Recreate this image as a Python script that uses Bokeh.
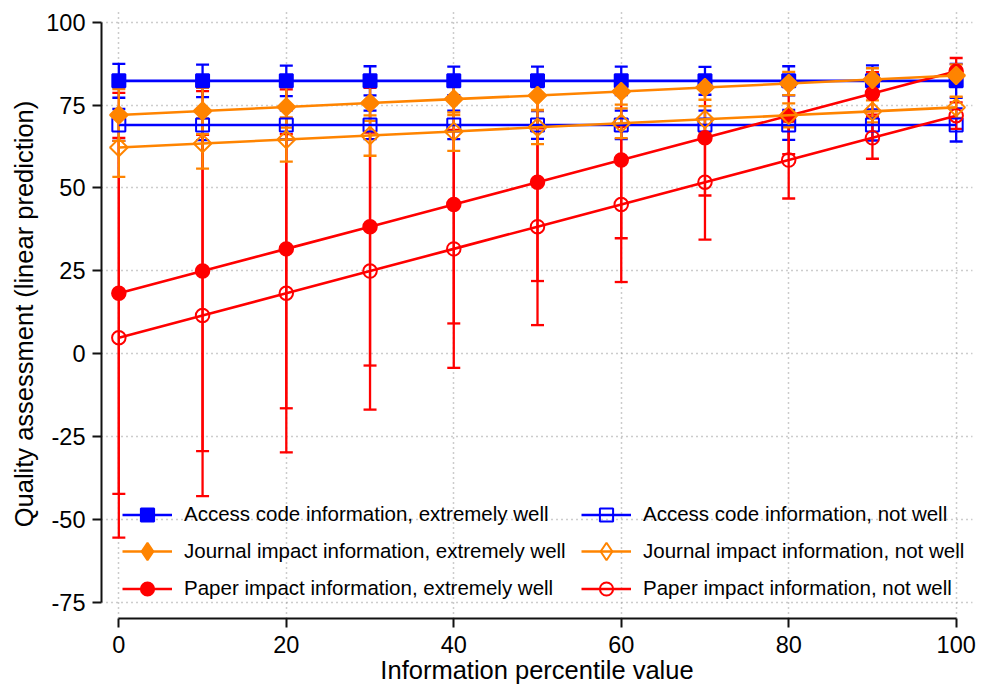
import math
from bokeh.plotting import figure
from bokeh.models import (ColumnDataSource, Range1d, Whisker, TeeHead, Legend,
                          LegendItem, FixedTicker)
from bokeh.embed import file_html
from bokeh.resources import INLINE

# ---------------- data ----------------
percentile = [0, 10, 20, 30, 40, 50, 60, 70, 80, 90, 100]
x_ticks = [0, 20, 40, 60, 80, 100]
y_ticks = [-75, -50, -25, 0, 25, 50, 75, 100]

access_ext = [82.3, 82.3, 82.3, 82.3, 82.3, 82.3, 82.3, 82.3, 82.3, 82.3, 82.3]
access_ext_lo = [77.2, 77.4, 77.7, 77.9, 78.0, 78.0, 78.0, 78.1, 77.9, 77.6, 77.2]
access_ext_hi = [87.4, 87.2, 86.9, 86.7, 86.6, 86.6, 86.6, 86.5, 86.7, 87.0, 87.4]

access_not = [69.0, 69.0, 69.0, 69.0, 69.0, 69.0, 69.0, 69.0, 69.0, 69.0, 69.0]
access_not_lo = [64.2, 64.4, 64.6, 64.7, 64.7, 64.8, 64.7, 64.7, 64.5, 64.3, 64.0]
access_not_hi = [73.8, 73.6, 73.4, 73.3, 73.3, 73.2, 73.3, 73.3, 73.5, 73.7, 74.0]

journal_ext = [72.0, 73.2, 74.4, 75.6, 76.8, 77.9, 79.1, 80.3, 81.5, 82.7, 83.9]
journal_ext_lo = [64.2, 66.2, 68.2, 70.2, 72.0, 73.5, 75.1, 76.6, 78.0, 79.3, 80.5]
journal_ext_hi = [79.8, 80.2, 80.6, 81.0, 81.6, 82.3, 83.1, 84.0, 85.0, 86.1, 87.3]

journal_not = [62.2, 63.4, 64.6, 65.8, 67.0, 68.3, 69.5, 70.7, 71.9, 73.1, 74.3]
journal_not_lo = [53.3, 55.8, 57.9, 59.7, 61.2, 63.2, 65.0, 66.7, 68.3, 69.8, 71.1]
journal_not_hi = [71.1, 71.0, 71.3, 71.9, 72.8, 73.4, 74.0, 74.7, 75.5, 76.4, 77.5]

paper_ext = [18.2, 24.9, 31.6, 38.3, 45.0, 51.7, 58.4, 65.1, 71.8, 78.5, 85.2]
paper_ext_lo = [-42.3, -29.4, -16.5, -3.6, 9.1, 21.9, 34.8, 47.7, 60.2, 72.1, 81.2]
paper_ext_hi = [78.7, 79.2, 79.7, 80.2, 80.9, 81.5, 82.0, 82.5, 83.4, 84.9, 89.2]

paper_not = [4.8, 11.5, 18.2, 24.9, 31.6, 38.3, 45.0, 51.7, 58.4, 65.1, 71.8]
paper_not_lo = [-55.5, -43.0, -29.8, -16.9, -4.3, 8.6, 21.6, 34.4, 46.8, 58.8, 67.8]
paper_not_hi = [65.1, 66.0, 66.2, 66.7, 67.5, 68.0, 68.4, 69.0, 70.0, 71.4, 75.8]

labels = [
    "Access code information, extremely well",
    "Access code information, not well",
    "Journal impact information, extremely well",
    "Journal impact information, not well",
    "Paper impact information, extremely well",
    "Paper impact information, not well",
]

BLUE = "#0000FF"
ORANGE = "#FF8400"
RED = "#FF0000"
FONT = "Liberation Sans"

# (label, y, lo, hi, color, shape, filled, legend column, legend row)
series = [
    (labels[0], access_ext, access_ext_lo, access_ext_hi, BLUE, "square", True, 0, 0),
    (labels[1], access_not, access_not_lo, access_not_hi, BLUE, "square", False, 1, 0),
    (labels[4], paper_ext, paper_ext_lo, paper_ext_hi, RED, "circle", True, 0, 2),
    (labels[5], paper_not, paper_not_lo, paper_not_hi, RED, "circle", False, 1, 2),
    (labels[2], journal_ext, journal_ext_lo, journal_ext_hi, ORANGE, "diamond", True, 0, 1),
    (labels[3], journal_not, journal_not_lo, journal_not_hi, ORANGE, "diamond", False, 1, 1),
]

p = figure(width=992, height=690, output_backend="svg", toolbar_location=None,
           x_range=Range1d(-2.07, 101.95), y_range=Range1d(-79.93, 103.83),
           min_border_left=101, min_border_right=20, min_border_top=9,
           min_border_bottom=72)
p.outline_line_color = None
p.background_fill_color = "white"

# grids
for g, t in ((p.xgrid, x_ticks), (p.ygrid, y_ticks)):
    g.ticker = FixedTicker(ticks=t)
    g.grid_line_color = "#9a9a9a"
    g.grid_line_dash = "1 4"
    g.grid_line_width = 1.5

# axes
p.xaxis.ticker = FixedTicker(ticks=x_ticks)
p.yaxis.ticker = FixedTicker(ticks=y_ticks)
p.yaxis.major_label_overrides = {t: str(t) for t in y_ticks}
p.xaxis.major_label_overrides = {t: str(t) for t in x_ticks}
p.xaxis.bounds = (0, 100)
p.yaxis.bounds = (-75, 100)
p.xaxis.axis_label = "Information percentile value"
p.yaxis.axis_label = "Quality assessment (linear prediction)"
for ax in (p.xaxis, p.yaxis):
    ax.axis_line_color = "#111111"
    ax.axis_line_width = 2
    ax.major_tick_line_color = "#111111"
    ax.major_tick_line_width = 2
    ax.major_tick_out = 9
    ax.major_tick_in = 0
    ax.minor_tick_line_color = None
    ax.major_label_text_font = FONT
    ax.major_label_text_font_size = "23.5px"
    ax.major_label_text_color = "black"
    ax.axis_label_text_font = FONT
    ax.axis_label_text_font_size = "25.5px"
    ax.axis_label_text_font_style = "normal"
    ax.axis_label_text_color = "black"
p.xaxis.major_label_standoff = 8
p.xaxis.axis_label_standoff = 0
p.yaxis.major_label_standoff = 7
p.yaxis.axis_label_standoff = 5

legend_rows_px = [514, 551, 588]   # row centres, page pixels (layout only)
legend_cols_px = [21, 480]
frame_bottom_px = 618

for (label, yv, lo, hi, color, shape, filled, col, row) in series:
    src = ColumnDataSource(dict(x=percentile, y=yv, lo=lo, hi=hi))
    w = Whisker(base="x", lower="lo", upper="hi", source=src, dimension="height",
                line_color=color, line_width=2.3,
                lower_head=TeeHead(size=13, line_color=color, line_width=2.3),
                upper_head=TeeHead(size=13, line_color=color, line_width=2.3))
    p.add_layout(w)

for (label, yv, lo, hi, color, shape, filled, col, row) in series:
    src = ColumnDataSource(dict(x=percentile, y=yv))
    ln = p.line("x", "y", source=src, line_color=color, line_width=2.6)
    if shape == "diamond":
        mk = p.scatter("x", "y", source=src, marker="square", angle=math.pi / 4,
                       size=12.5, line_color=color, line_width=2,
                       fill_color=color if filled else None)
        # legend stand-in (drawn only in the legend)
        leg_src = ColumnDataSource(dict(x=[float("nan")], y=[float("nan")]))
        leg_mk = p.scatter("x", "y", source=leg_src, marker="diamond", size=18,
                           line_color=color, line_width=2,
                           fill_color=color if filled else None)
        renderers = [ln, leg_mk]
        gh = 44
    else:
        mk = p.scatter("x", "y", source=src, marker=shape,
                       size=13 if shape == "square" else 13.5,
                       line_color=color, line_width=2,
                       fill_color=color if filled else None)
        renderers = [ln, mk]
        gh = 33
    vy = frame_bottom_px - (legend_rows_px[row] + gh / 2)
    leg = Legend(items=[LegendItem(label=label, renderers=renderers)],
                 location=(legend_cols_px[col], vy),
                 glyph_width=50, glyph_height=gh, label_height=gh,
                 label_standoff=12, padding=0, spacing=0, margin=0,
                 background_fill_alpha=0, border_line_alpha=0,
                 label_text_font=FONT, label_text_font_size="20.5px",
                 label_text_color="black")
    p.add_layout(leg)

open("out.html", "w").write(file_html(p, INLINE))
